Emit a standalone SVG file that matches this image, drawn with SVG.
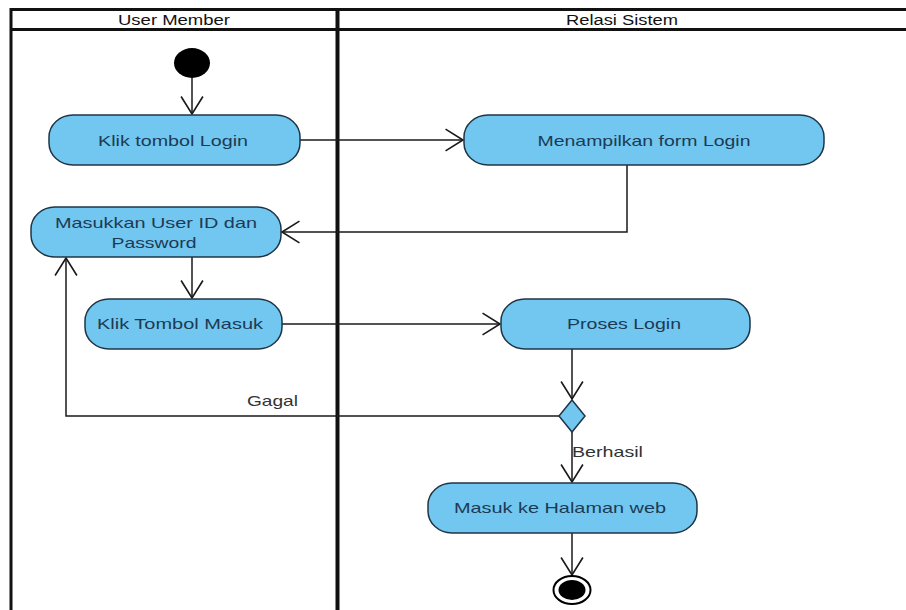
<svg xmlns="http://www.w3.org/2000/svg" width="906" height="610" viewBox="0 0 906 610">
<defs>
<style>
.lane{stroke:#111;fill:none}
.hdr{font-family:"Liberation Sans",Arial,sans-serif;font-size:14px;fill:#111;text-anchor:middle}
.node{fill:#71c7ef;stroke:#1f3546;stroke-width:1.5}
.lbl{font-family:"Liberation Sans",Arial,sans-serif;font-size:15px;fill:#1d3a55;text-anchor:middle}
.guard{font-family:"Liberation Sans",Arial,sans-serif;font-size:15px;fill:#333}
.edge{fill:none;stroke:#1a1a1a;stroke-width:1.5}
</style>
<marker id="arr" markerUnits="userSpaceOnUse" markerWidth="22" markerHeight="24" viewBox="-18 -11 20 22" refX="0" refY="0" orient="auto">
<polyline points="-16,-10 0,0 -16,10" fill="none" stroke="#1a1a1a" stroke-width="1.5"/>
</marker>
</defs>
<rect width="906" height="610" fill="#fff"/>
<g id="swimlanes">
<line class="lane" x1="10" y1="9.5" x2="906" y2="9.5" stroke-width="3"/>
<line class="lane" x1="10" y1="29.5" x2="906" y2="29.5" stroke-width="3"/>
<line class="lane" x1="11" y1="8" x2="11" y2="610" stroke-width="3"/>
<line class="lane" x1="337.5" y1="8" x2="337.5" y2="610" stroke-width="4"/>
<text class="hdr" x="174" y="25" textLength="112" lengthAdjust="spacingAndGlyphs">User Member</text>
<text class="hdr" x="622" y="25" textLength="112" lengthAdjust="spacingAndGlyphs">Relasi Sistem</text>
</g>
<g id="connectors">
<path class="edge" d="M192,78 V114" marker-end="url(#arr)"/>
<path class="edge" d="M300,140 H463" marker-end="url(#arr)"/>
<path class="edge" d="M627,165 V232 H282" marker-end="url(#arr)"/>
<path class="edge" d="M192,257 V298" marker-end="url(#arr)"/>
<path class="edge" d="M282,324 H500" marker-end="url(#arr)"/>
<path class="edge" d="M572,349 V399" marker-end="url(#arr)"/>
<path class="edge" d="M559,416 H66 V258" marker-end="url(#arr)"/>
<path class="edge" d="M572,432 V482" marker-end="url(#arr)"/>
<path class="edge" d="M572,533 V575" marker-end="url(#arr)"/>
<text class="guard" x="247" y="406" textLength="51" lengthAdjust="spacingAndGlyphs">Gagal</text>
<text class="guard" x="572" y="457" textLength="71" lengthAdjust="spacingAndGlyphs">Berhasil</text>
</g>
<g id="start">
<ellipse cx="192" cy="63" rx="18" ry="15" fill="#000"/>
</g>
<g id="klik-login">
<rect class="node" x="49" y="115" width="251" height="50" rx="24" ry="22"/>
<text class="lbl" x="173" y="146" textLength="150" lengthAdjust="spacingAndGlyphs">Klik tombol Login</text>
</g>
<g id="menampilkan-form">
<rect class="node" x="464" y="115" width="360" height="50" rx="24" ry="22"/>
<text class="lbl" x="644" y="146" textLength="213" lengthAdjust="spacingAndGlyphs">Menampilkan form Login</text>
</g>
<g id="masukkan-userid">
<rect class="node" x="31" y="207" width="250" height="50" rx="24" ry="22"/>
<text class="lbl" x="156" y="228" textLength="202" lengthAdjust="spacingAndGlyphs">Masukkan User ID dan</text>
<text class="lbl" x="154" y="248" textLength="85" lengthAdjust="spacingAndGlyphs">Password</text>
</g>
<g id="klik-masuk">
<rect class="node" x="85" y="299" width="197" height="50" rx="24" ry="22"/>
<text class="lbl" x="180" y="329" textLength="166" lengthAdjust="spacingAndGlyphs">Klik Tombol Masuk</text>
</g>
<g id="proses-login">
<rect class="node" x="501" y="299" width="249" height="50" rx="24" ry="22"/>
<text class="lbl" x="624" y="329" textLength="114" lengthAdjust="spacingAndGlyphs">Proses Login</text>
</g>
<g id="decision">
<polygon class="node" points="572,400 585,416 572,432 559,416"/>
</g>
<g id="masuk-halaman">
<rect class="node" x="428" y="483" width="269" height="50" rx="24" ry="22"/>
<text class="lbl" x="560" y="513" textLength="212" lengthAdjust="spacingAndGlyphs">Masuk ke Halaman web</text>
</g>
<g id="end">
<ellipse cx="572" cy="590" rx="18.5" ry="14" fill="#fff" stroke="#000" stroke-width="2"/>
<ellipse cx="572" cy="590" rx="13.5" ry="10" fill="#000"/>
</g>
</svg>
